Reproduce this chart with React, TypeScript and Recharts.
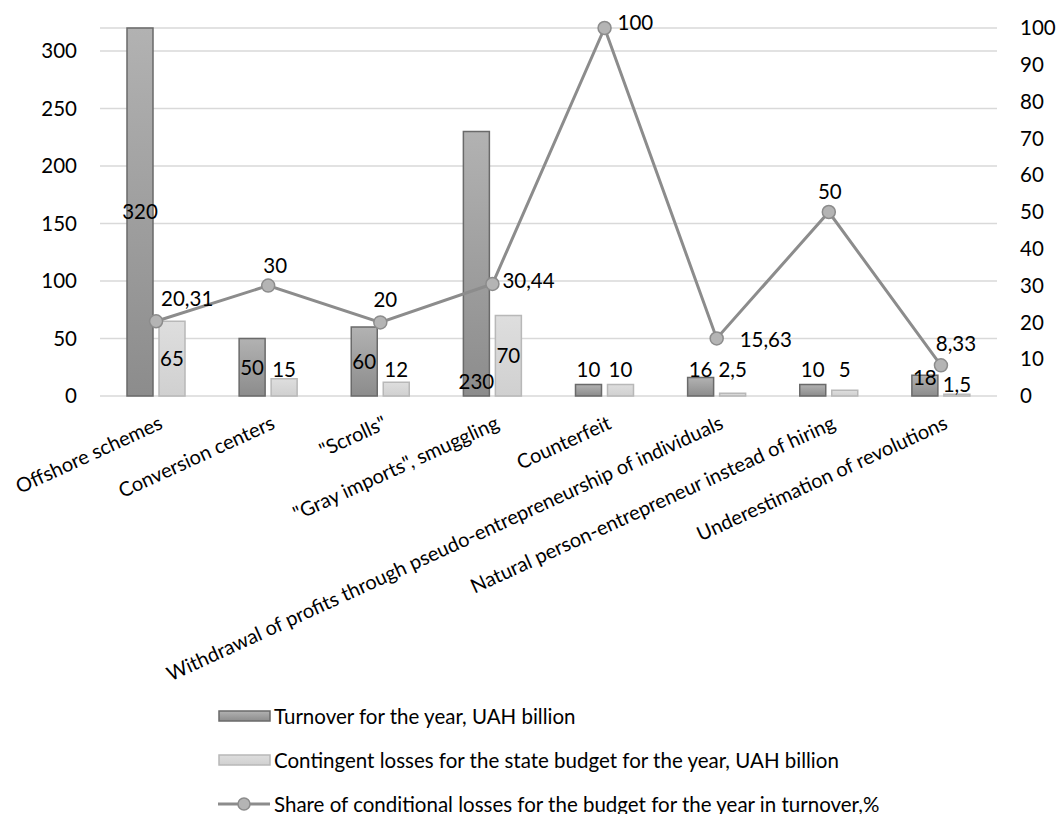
import React from 'react';
import { ComposedChart, Bar, Line, XAxis, YAxis, CartesianGrid, Legend, LabelList } from 'recharts';

const categories = [
  'Offshore schemes',
  'Conversion centers',
  '"Scrolls"',
  '"Gray imports", smuggling',
  'Counterfeit',
  'Withdrawal of profits through pseudo-entrepreneurship of individuals',
  'Natural person-entrepreneur instead of hiring',
  'Underestimation of revolutions',
];
const turnover = [320, 50, 60, 230, 10, 16, 10, 18];
const losses = [65, 15, 12, 70, 10, 2.5, 5, 1.5];
const share = [20.31, 30, 20, 30.44, 100, 15.63, 50, 8.33];

const leftTicks = [0, 50, 100, 150, 200, 250, 300];
const rightTicks = [0, 10, 20, 30, 40, 50, 60, 70, 80, 90, 100];

const seriesNames = [
  'Turnover for the year, UAH billion',
  'Contingent losses for the state budget for the year, UAH billion',
  'Share of conditional losses for the budget for the year in turnover,%',
];

// label placement: null = middle of the bar, number = distance of label centre above the bar base
const turnoverLabelLift: (number | null)[] = [null, null, null, 14, 26, 26, 26, 18];
const lossesLabelLift: (number | null)[] = [null, 26, 26, null, 26, 26, 26, 11];
// line label offsets [dx, dy, anchor]
const lineLabelOffsets: [number, number, string][] = [
  [5, -23, 'start'],
  [7, -20, 'middle'],
  [5, -23, 'middle'],
  [10, -3, 'start'],
  [13, -5, 'start'],
  [23, 1, 'start'],
  [1, -20, 'middle'],
  [15, -22, 'middle'],
];

const data = categories.map((c, i) => ({
  name: c,
  turnover: turnover[i],
  losses: losses[i],
  share: share[i],
}));

const FONT = 'Lato, "Open Sans", sans-serif';
const FS = 20.5;
const fmt = (v: number) => String(v).replace('.', ',');

const makeBarLabel = (lifts: (number | null)[]) => (props: any) => {
  const { x, y, width, height, index, value } = props;
  const lift = lifts[index];
  const bottom = y + height;
  const cy = lift == null ? y + height / 2 : bottom - lift;
  return (
    <text x={x + width / 2} y={cy} dy="0.36em" textAnchor="middle" fontSize={FS} fontFamily={FONT} fill="#000">
      {fmt(value)}
    </text>
  );
};

const LineLabel = (props: any) => {
  const { x, y, index, value } = props;
  const [dx, dy, anchor] = lineLabelOffsets[index];
  return (
    <text x={x + dx} y={y + dy} dy="0.36em" textAnchor={anchor as any} fontSize={FS} fontFamily={FONT} fill="#000">
      {fmt(value)}
    </text>
  );
};

const XTick = (props: any) => {
  const { x, y, payload } = props;
  return (
    <g transform={`translate(${x + 2},${y + 19})`}>
      <text textAnchor="end" transform="rotate(-24.6)" dy="0.71em" fontSize={20} fontFamily={FONT} fill="#000">
        {payload.value}
      </text>
    </g>
  );
};

const renderLegend = () => (
  <div style={{ fontFamily: FONT, fontSize: FS, color: '#000' }}>
    {seriesNames.map((n, i) => (
      <div key={n} style={{ height: 44, display: 'flex', alignItems: 'center', whiteSpace: 'nowrap' }}>
        <svg width={54} height={16} style={{ marginRight: 2 }}>
          {i === 0 && <rect x={1} y={3} width={51} height={10} fill="url(#gradDark)" stroke="#6a6a6a" strokeWidth={1.5} />}
          {i === 1 && <rect x={1} y={3} width={51} height={10} fill="url(#gradLight)" stroke="#b8b8b8" strokeWidth={1.5} />}
          {i === 2 && (
            <g>
              <line x1={0} y1={8} x2={52} y2={8} stroke="#8c8c8c" strokeWidth={3} />
              <circle cx={26} cy={8} r={6} fill="#b4b4b4" stroke="#8c8c8c" strokeWidth={1.5} />
            </g>
          )}
        </svg>
        <span>{n}</span>
      </div>
    ))}
  </div>
);

export default function App() {
  return (
    <div style={{ position: 'absolute', left: 0, top: 0, width: 1058, height: 814, background: '#fff' }}>
      <svg width={0} height={0} style={{ position: 'absolute' }}>
        <defs>
          <linearGradient id="gradDark" x1="0" y1="0" x2="0" y2="1">
            <stop offset="0%" stopColor="#b2b2b2" />
            <stop offset="100%" stopColor="#8c8c8c" />
          </linearGradient>
          <linearGradient id="gradLight" x1="0" y1="0" x2="0" y2="1">
            <stop offset="0%" stopColor="#dedede" />
            <stop offset="100%" stopColor="#d0d0d0" />
          </linearGradient>
        </defs>
      </svg>
      <ComposedChart
        width={1058}
        height={814}
        data={data}
        margin={{ top: 28, right: 0, left: 0, bottom: 0 }}
        barSize={26}
        barGap={6}
      >
        <defs>
          <linearGradient id="barDark" x1="0" y1="0" x2="0" y2="1">
            <stop offset="0%" stopColor="#b2b2b2" />
            <stop offset="100%" stopColor="#8c8c8c" />
          </linearGradient>
          <linearGradient id="barLight" x1="0" y1="0" x2="0" y2="1">
            <stop offset="0%" stopColor="#dedede" />
            <stop offset="100%" stopColor="#d0d0d0" />
          </linearGradient>
        </defs>
        <CartesianGrid vertical={false} stroke="#d9d9d9" strokeWidth={1.5} yAxisId="left" />
        <XAxis
          dataKey="name"
          interval={0}
          tick={<XTick />}
          tickLine={false}
          axisLine={false}
          height={300}
          tickSize={0}
          tickMargin={0}
        />
        <YAxis
          yAxisId="left"
          domain={[0, 320]}
          ticks={leftTicks}
          width={100}
          axisLine={false}
          tickLine={false}
          tickSize={0}
          tickMargin={23}
          tick={{ fontSize: FS, fontFamily: FONT, fill: '#000' }}
        />
        <YAxis
          yAxisId="right"
          orientation="right"
          domain={[0, 100]}
          ticks={rightTicks}
          width={61}
          axisLine={false}
          tickLine={false}
          tickSize={0}
          tickMargin={23}
          tick={{ fontSize: FS, fontFamily: FONT, fill: '#000', textAnchor: 'start' }}
        />
        <Bar yAxisId="left" dataKey="turnover" name={seriesNames[0]} fill="url(#barDark)" stroke="#6a6a6a" strokeWidth={1.5} isAnimationActive={false}>
          <LabelList dataKey="turnover" content={makeBarLabel(turnoverLabelLift)} />
        </Bar>
        <Bar yAxisId="left" dataKey="losses" name={seriesNames[1]} fill="url(#barLight)" stroke="#b8b8b8" strokeWidth={1.5} isAnimationActive={false}>
          <LabelList dataKey="losses" content={makeBarLabel(lossesLabelLift)} />
        </Bar>
        <Line
          yAxisId="right"
          dataKey="share"
          name={seriesNames[2]}
          stroke="#8c8c8c"
          strokeWidth={3}
          dot={{ r: 6.5, fill: '#b4b4b4', stroke: '#8c8c8c', strokeWidth: 1.5 }}
          activeDot={false}
          isAnimationActive={false}
        >
          <LabelList dataKey="share" content={<LineLabel />} />
        </Line>
        <Legend
          verticalAlign="bottom"
          content={renderLegend}
          wrapperStyle={{ position: 'absolute', left: 218, top: 694, width: 800, height: 118, bottom: 'auto' }}
        />
      </ComposedChart>
    </div>
  );
}
